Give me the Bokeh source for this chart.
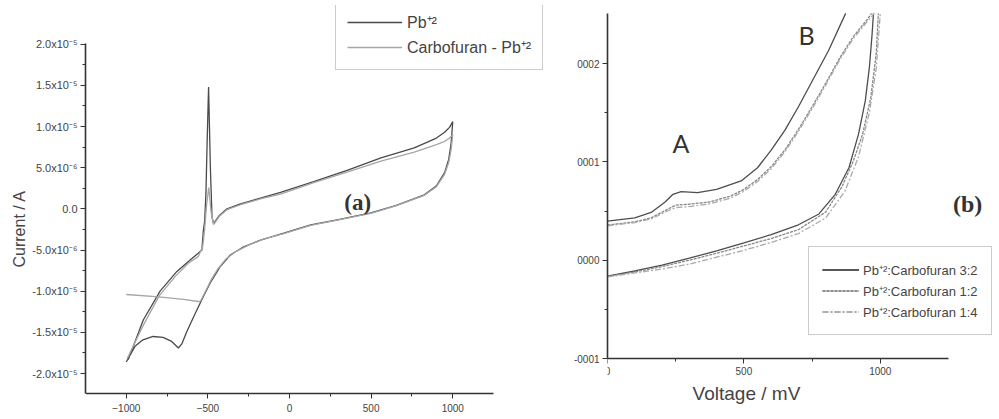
from bokeh.plotting import figure
from bokeh.layouts import row
from bokeh.models import (FixedTicker, CustomJSTickFormatter, Legend, LegendItem,
                          Label, Title, Range1d)
from bokeh.embed import file_html
from bokeh.resources import INLINE

# ---------------- Panel (a): cyclic voltammograms ----------------
pb_v = [-1000, -947, -898, -836, -775, -722, -681, -660, -629, -578,
        -527, -486, -424, -363, -281, -178, -35, 130, 300, 498,
        650, 826, 900, 950, 975, 990, 1000, 980, 950, 900,
        764, 560, 357, 148, -55, -178, -300, -383, -430, -465,
        -475, -485, -496, -505, -512, -520, -528, -537, -560, -609,
        -690, -793, -896, -988]
pb_i = [-18.6e-6, -16.7e-6, -15.9e-6, -15.5e-6, -15.6e-6, -16.1e-6, -16.9e-6, -16.4e-6, -14.9e-6, -12.7e-6,
        -10.6e-6, -9.0e-6, -7.0e-6, -5.6e-6, -4.6e-6, -3.8e-6, -2.95e-6, -1.94e-6, -1.3e-6, -0.5e-6,
        0.4e-6, 1.7e-6, 2.8e-6, 4.4e-6, 6.0e-6, 8.0e-6, 10.6e-6, 9.9e-6, 9.3e-6, 8.6e-6,
        7.4e-6, 6.2e-6, 4.7e-6, 3.3e-6, 2.0e-6, 1.3e-6, 0.6e-6, 0.0, -0.8e-6, -1.8e-6,
        -1.0e-6, 5.0e-6, 14.8e-6, 8.0e-6, 2.0e-6, -1.5e-6, -2.6e-6, -5.0e-6, -5.4e-6, -6.2e-6,
        -7.6e-6, -10.0e-6, -13.5e-6, -18.3e-6]

cpb_v = [-1000, -800, -650, -560, -545, -515, -480, -440, -390, -330,
         -250, -150, -35, 130, 300, 498, 650, 826, 900, 950,
         975, 990, 1000, 980, 950, 900, 764, 560, 357, 148,
         -55, -178, -300, -383, -430, -465, -480, -495, -508, -520,
         -532, -560, -620, -700, -800, -900, -995]
cpb_i = [-10.4e-6, -10.7e-6, -11.0e-6, -11.25e-6, -11.2e-6, -10.0e-6, -8.6e-6, -7.3e-6, -6.1e-6, -5.2e-6,
         -4.4e-6, -3.6e-6, -3.0e-6, -2.0e-6, -1.35e-6, -0.55e-6, 0.35e-6, 1.65e-6, 2.7e-6, 4.2e-6,
         5.6e-6, 7.2e-6, 9.0e-6, 8.6e-6, 8.2e-6, 7.8e-6, 6.9e-6, 5.8e-6, 4.5e-6, 3.2e-6,
         1.8e-6, 1.2e-6, 0.5e-6, -0.1e-6, -0.9e-6, -1.9e-6, -0.5e-6, 2.6e-6, 0.5e-6, -2.5e-6,
         -4.6e-6, -5.8e-6, -6.6e-6, -8.2e-6, -10.6e-6, -14.3e-6, -18.2e-6]

a_xticks = [-1000, -500, 0, 500, 1000]
a_xminor = [-750, -250, 250, 750]
a_yticks = [-2.0e-5, -1.5e-5, -1.0e-5, -5.0e-6, 0.0, 5.0e-6, 1.0e-5, 1.5e-5, 2.0e-5]
a_yminor = [-1.75e-5, -1.25e-5, -7.5e-6, -2.5e-6, 2.5e-6, 7.5e-6, 1.25e-5, 1.75e-5]
a_labels = ["Pb\u207a\u00b2", "Carbofuran - Pb\u207a\u00b2"]

# ---------------- Panel (b): linear sweeps ----------------
u1_v = [0, 100, 160, 210, 240, 270, 330, 400, 490, 550, 600, 650, 700, 750, 810, 873]
u1_i = [3.98e-5, 4.3e-5, 4.85e-5, 5.9e-5, 6.7e-5, 6.97e-5, 6.87e-5, 7.2e-5, 8.06e-5, 9.4e-5,
        11.2e-5, 13.2e-5, 15.6e-5, 18.2e-5, 21.3e-5, 25.1e-5]
l1_v = [0, 100, 200, 300, 400, 500, 600, 700, 775, 835, 885, 920, 945, 960, 970, 975]
l1_i = [-1.63e-5, -1.1e-5, -0.5e-5, 0.2e-5, 0.95e-5, 1.75e-5, 2.6e-5, 3.6e-5, 4.7e-5, 6.7e-5,
        9.4e-5, 12.8e-5, 16.2e-5, 19.6e-5, 23.0e-5, 25.1e-5]

u2_v = [0, 100, 160, 220, 250, 300, 370, 450, 500, 550, 600, 650, 700, 750, 800, 850, 900, 950, 968]
u2_i = [3.57e-5, 3.9e-5, 4.3e-5, 5.17e-5, 5.6e-5, 5.7e-5, 5.9e-5, 6.5e-5, 7.2e-5, 8.2e-5,
        9.5e-5, 11.2e-5, 13.3e-5, 15.6e-5, 18.0e-5, 20.5e-5, 22.7e-5, 24.4e-5, 25.1e-5]
l2_v = [0, 100, 200, 300, 400, 500, 600, 700, 800, 860, 900, 935, 965, 985, 993]
l2_i = [-1.66e-5, -1.2e-5, -0.65e-5, 0.0, 0.7e-5, 1.45e-5, 2.2e-5, 3.1e-5, 4.9e-5, 7.5e-5,
        10.0e-5, 12.8e-5, 16.5e-5, 21.0e-5, 25.1e-5]

u3_v = [0, 100, 160, 220, 250, 300, 370, 450, 500, 550, 600, 650, 700, 750, 800, 850, 900, 950, 978]
u3_i = [3.5e-5, 3.82e-5, 4.2e-5, 5.0e-5, 5.35e-5, 5.45e-5, 5.7e-5, 6.3e-5, 7.0e-5, 8.0e-5,
        9.3e-5, 11.0e-5, 13.1e-5, 15.4e-5, 17.8e-5, 20.3e-5, 22.5e-5, 24.2e-5, 25.1e-5]
l3_v = [0, 100, 200, 300, 400, 500, 600, 700, 800, 870, 920, 960, 985, 1000]
l3_i = [-1.7e-5, -1.3e-5, -0.9e-5, -0.4e-5, 0.3e-5, 1.0e-5, 1.8e-5, 2.7e-5, 4.3e-5, 7.0e-5,
        10.5e-5, 15.0e-5, 19.5e-5, 25.1e-5]

b_xticks = [0, 500, 1000]
b_xminor = [250, 750]
b_yticks = [-1.0e-4, 0.0, 1.0e-4, 2.0e-4]
b_yminor = [-0.5e-4, 0.5e-4, 1.5e-4]
b_labels = ["Pb\u207a\u00b2:Carbofuran 3:2", "Pb\u207a\u00b2:Carbofuran 1:2", "Pb\u207a\u00b2:Carbofuran 1:4"]

FONT = "Liberation Sans"


def style_axes(p, xfs, yfs):
    for ax in (p.xaxis[0], p.yaxis[0]):
        ax.axis_line_color = "#333333"
        ax.axis_line_width = 1.6
        ax.major_tick_line_color = "#333333"
        ax.minor_tick_line_color = "#333333"
        ax.major_tick_out = 5
        ax.major_tick_in = 0
        ax.minor_tick_out = 3
        ax.minor_tick_in = 0
        ax.major_label_text_color = "#444444"
        ax.major_label_text_font = FONT
        ax.major_label_standoff = 3
    p.xaxis[0].major_label_text_font_size = xfs
    p.yaxis[0].major_label_text_font_size = yfs
    p.xgrid.visible = False
    p.ygrid.visible = False
    p.outline_line_color = None


# ---- figure (a)
pa = figure(width=565, height=419, x_range=Range1d(-1250, 1660),
            y_range=Range1d(-2.534e-5, 2.470e-5), output_backend="svg",
            toolbar_location=None, min_border_left=85, min_border_right=5,
            min_border_top=5, min_border_bottom=2)
style_axes(pa, "10px", "11px")
pa.xaxis.major_label_standoff = 6
pa.xaxis.ticker = FixedTicker(ticks=a_xticks, minor_ticks=a_xminor)
pa.yaxis.ticker = FixedTicker(ticks=a_yticks, minor_ticks=a_yminor)
pa.xaxis.bounds = (-1250, 1250)
pa.yaxis.bounds = (-2.242e-5, 2.008e-5)
pa.xaxis.fixed_location = -2.242e-5
pa.yaxis.formatter = CustomJSTickFormatter(code="""
if (Math.abs(tick) < 1e-12) { return "0.0"; }
const e = Math.floor(Math.log10(Math.abs(tick)) + 1e-9);
const m = tick / Math.pow(10, e);
const sup = {"-": "\u207b", "0": "\u2070", "1": "\u00b9", "2": "\u00b2", "3": "\u00b3",
             "4": "\u2074", "5": "\u2075", "6": "\u2076", "7": "\u2077", "8": "\u2078", "9": "\u2079"};
const es = String(e).split("").map(c => sup[c]).join("");
return m.toFixed(1) + "x10" + es;
""")
pa.add_layout(Title(text="Current / A", align="left", offset=150, text_font=FONT,
                    text_font_style="normal", text_font_size="16px",
                    text_color="#444444", standoff=4), "left")

ra1 = pa.line(pb_v, pb_i, line_color="#4a4a4a", line_width=1.3)
ra2 = pa.line(cpb_v, cpb_i, line_color="#a6a6a6", line_width=1.3)

leg_a = Legend(items=[LegendItem(label=a_labels[0], renderers=[ra1]),
                      LegendItem(label=a_labels[1], renderers=[ra2])],
               location=(250, 347), padding=11, spacing=3, margin=0,
               glyph_width=55, glyph_height=20, label_height=20, label_standoff=5,
               label_text_font=FONT, label_text_font_size="16px", label_text_color="#444444",
               border_line_color="#999999", border_line_width=1, background_fill_alpha=0)
pa.add_layout(leg_a)
pa.add_layout(Label(x=418, y=0.73e-6, text="(a)", text_align="center", text_baseline="middle",
                    text_font="Liberation Serif", text_font_style="bold",
                    text_font_size="23px", text_color="#333333"))

# ---- figure (b)
pbf = figure(width=434, height=419, x_range=Range1d(0, 1426),
             y_range=Range1d(-1.600e-4, 2.590e-4), output_backend="svg",
             toolbar_location=None, min_border_left=42, min_border_right=3,
             min_border_top=5, min_border_bottom=2)
style_axes(pbf, "10px", "10px")
pbf.xaxis.ticker = FixedTicker(ticks=b_xticks, minor_ticks=b_xminor)
pbf.yaxis.ticker = FixedTicker(ticks=b_yticks, minor_ticks=b_yminor)
pbf.xaxis.bounds = (0, 1250)
pbf.yaxis.bounds = (-1.0e-4, 2.509e-4)
pbf.xaxis.fixed_location = -1.0e-4
pbf.yaxis.formatter = CustomJSTickFormatter(code="""
const v = Math.round(tick * 1e4);
return v < 0 ? "-000" + (-v) : "000" + v;
""")
pbf.add_layout(Label(x=312, y=-1.356e-4, text="Voltage / mV", text_align="left",
                     text_baseline="middle", text_font=FONT, text_font_size="19px",
                     text_color="#444444"))

s1 = dict(line_color="#4d4d4d", line_width=1.3)
s2 = dict(line_color="#888888", line_width=1.3, line_dash="3 1")
s3 = dict(line_color="#aaaaaa", line_width=1.3, line_dash="6 2 2 2")
rb1 = pbf.line(u1_v, u1_i, **s1)
rb1b = pbf.line(l1_v, l1_i, **s1)
rb2 = pbf.line(u2_v, u2_i, **s2)
rb2b = pbf.line(l2_v, l2_i, **s2)
rb3 = pbf.line(u3_v, u3_i, **s3)
rb3b = pbf.line(l3_v, l3_i, **s3)

leg_b = Legend(items=[LegendItem(label=b_labels[0], renderers=[rb1, rb1b]),
                      LegendItem(label=b_labels[1], renderers=[rb2, rb2b]),
                      LegendItem(label=b_labels[2], renderers=[rb3, rb3b])],
               location=(201, 82), padding=13, spacing=2, margin=0,
               glyph_width=37, glyph_height=19, label_height=19, label_standoff=4,
               label_text_font=FONT, label_text_font_size="13px", label_text_color="#444444",
               border_line_color="#999999", border_line_width=1, background_fill_alpha=0)
pbf.add_layout(leg_b)

for txt, xv, yv in (("A", 269, 1.19e-4), ("B", 730, 2.29e-4)):
    pbf.add_layout(Label(x=xv, y=yv, text=txt, text_align="center", text_baseline="middle",
                         text_font="Lato", text_font_size="25px", text_color="#333333"))
pbf.add_layout(Label(x=1320, y=5.71e-5, text="(b)", text_align="center", text_baseline="middle",
                     text_font="Liberation Serif", text_font_style="bold",
                     text_font_size="24px", text_color="#333333"))

layout = row(pa, pbf)
open("out.html", "w").write(file_html(layout, INLINE))
